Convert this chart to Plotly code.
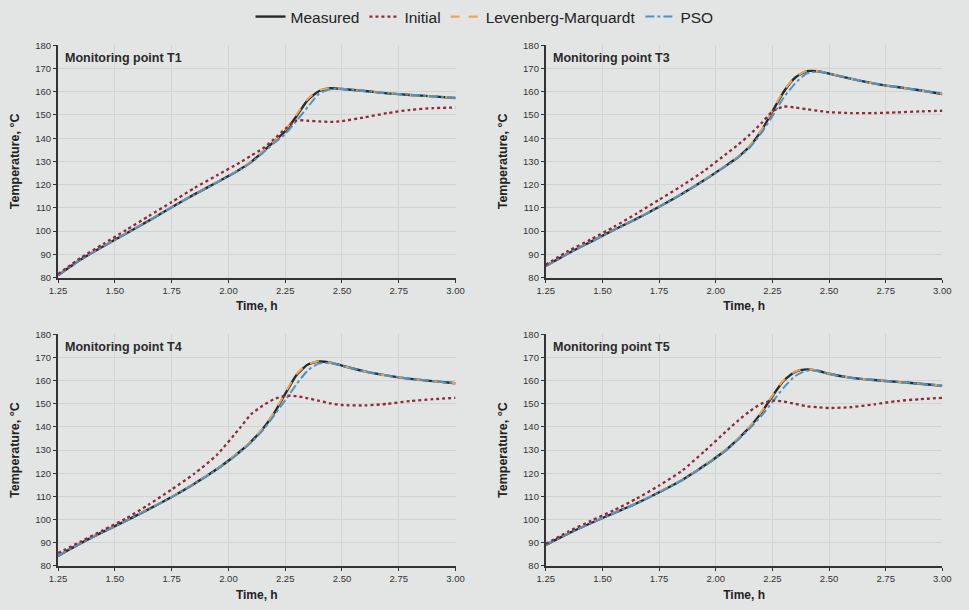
import plotly.graph_objects as go

time_h = [1.25, 1.35, 1.45, 1.55, 1.65, 1.75, 1.85, 1.95, 2.05, 2.10, 2.15, 2.20,
          2.25, 2.30, 2.35, 2.40, 2.45, 2.50, 2.60, 2.70, 2.80, 2.90, 3.00]

panel_titles = ["Monitoring point T1", "Monitoring point T3",
                "Monitoring point T4", "Monitoring point T5"]
series_names = ["Measured", "Initial", "Levenberg-Marquardt", "PSO"]

# T1
t1_measured = [81, 87.8, 93.5, 99, 104.5, 110.3, 115.8, 121, 126.5, 129.8, 134, 138.5,
               143, 149.5, 156.5, 160.3, 161.5, 161.2, 160.3, 159.3, 158.6, 158, 157.3]
t1_initial = [81.5, 88.5, 94.5, 100.5, 106.5, 112.5, 118.5, 124, 129.5, 132.5, 135.5, 139.5,
              144, 147.6, 147.5, 147.2, 147, 147.3, 149, 150.8, 152.2, 152.9, 153.2]
t1_lm = [81.2, 87.9, 93.6, 99.1, 104.6, 110.4, 115.9, 121.1, 126.6, 130, 134.2, 138.8,
         143.5, 150.2, 157, 160.6, 161.6, 161.2, 160.3, 159.4, 158.6, 158, 157.4]
t1_pso = [81, 87.7, 93.4, 98.9, 104.4, 110.2, 115.7, 120.9, 126.3, 129.5, 133.5, 137.8,
          141.8, 147.5, 153.5, 159.2, 161.1, 161.1, 160.3, 159.3, 158.6, 158, 157.3]

# T3
t3_measured = [85, 90.5, 95.5, 100.5, 105.3, 110.5, 116, 122, 128.5, 132, 136.5, 143,
               151.5, 160, 166, 168.8, 168.8, 167.8, 165.5, 163.5, 162, 160.6, 159]
t3_initial = [85.5, 91.5, 96.5, 101.8, 107.5, 113.5, 119.5, 126, 133.5, 137.3, 141.5, 146.3,
              151.5, 153.6, 153.2, 152.5, 151.8, 151.2, 150.8, 150.8, 151.1, 151.5, 151.8]
t3_lm = [85.1, 90.6, 95.6, 100.6, 105.4, 110.6, 116.1, 122.1, 128.6, 132.2, 136.8, 143.4,
         152, 160.4, 166.2, 168.9, 168.8, 167.8, 165.5, 163.5, 162, 160.6, 159.1]
t3_pso = [85, 90.4, 95.4, 100.4, 105.2, 110.4, 115.9, 121.9, 128.3, 131.7, 136, 142,
          149.5, 157.5, 163.5, 167.8, 168.6, 167.8, 165.5, 163.5, 162, 160.6, 159]

# T4
t4_measured = [84.3, 89.8, 94.8, 99.5, 104.5, 109.7, 115.5, 121.8, 129.3, 133.7, 139, 145.8,
               154.3, 162.5, 167, 168.3, 167.8, 166.5, 164, 162.2, 160.8, 159.8, 158.9]
t4_initial = [85.5, 90.5, 95.5, 100.5, 106.5, 113, 119.8, 128, 139.5, 145.5, 149.2, 152,
              153.5, 153.3, 152.4, 151.3, 150.2, 149.5, 149.3, 150, 151.2, 152, 152.6]
t4_lm = [84.4, 89.9, 94.9, 99.6, 104.6, 109.8, 115.6, 121.9, 129.5, 133.9, 139.3, 146.2,
         154.8, 162.9, 167.2, 168.4, 167.8, 166.5, 164, 162.2, 160.8, 159.8, 158.9]
t4_pso = [84.3, 89.7, 94.7, 99.4, 104.4, 109.6, 115.4, 121.6, 129, 133.3, 138.4, 144.8,
          151.5, 158.5, 164.5, 167.5, 167.6, 166.5, 164, 162.2, 160.8, 159.8, 158.9]

# T5
t5_measured = [89, 94, 98.5, 102.8, 107, 111.8, 117, 123.3, 130.5, 135, 140, 146,
               153.3, 160, 163.8, 164.9, 164.3, 163, 161.2, 160.3, 159.5, 158.7, 157.8]
t5_initial = [89.5, 94.8, 99.5, 104, 109, 114.7, 121, 129.5, 138.5, 142.9, 146.8, 150,
              151.4, 151, 150, 149, 148.5, 148.2, 148.6, 149.8, 151.2, 152, 152.6]
t5_lm = [89.1, 94.1, 98.6, 102.9, 107.1, 111.9, 117.1, 123.4, 130.7, 135.2, 140.3, 146.4,
         153.7, 160.3, 164, 165, 164.3, 163, 161.2, 160.3, 159.5, 158.7, 157.9]
t5_pso = [89, 93.9, 98.4, 102.7, 106.9, 111.7, 116.9, 123.1, 130.2, 134.6, 139.4, 144.6,
          150.8, 157, 162, 164.3, 164.2, 163, 161.2, 160.3, 159.5, 158.7, 157.8]

panels = [
    (t1_measured, t1_initial, t1_lm, t1_pso),
    (t3_measured, t3_initial, t3_lm, t3_pso),
    (t4_measured, t4_initial, t4_lm, t4_pso),
    (t5_measured, t5_initial, t5_lm, t5_pso),
]

colors = ["#2a2a2a", "#8e2a3a", "#eaa756", "#4c92c6"]
dashes = ["solid", "dot", "dash", "dashdot"]
widths = [2.4, 2.3, 2.1, 2.0]

x_domains = [[50 / 969, 455 / 969], [547 / 969, 951 / 969]]
y_domains = [[334 / 610, 571 / 610], [40 / 610, 276 / 610]]

BG = "#e3e5e5"
GRID = "#d2d4d4"
FONT = "Liberation Sans, Arial, sans-serif"

fig = go.Figure()
layout = {}
for i, vals in enumerate(panels):
    r, c = divmod(i, 2)
    n = "" if i == 0 else str(i + 1)
    xa, ya = "x" + n, "y" + n
    for k in [0, 2, 3, 1]:
        fig.add_trace(go.Scatter(
            x=time_h, y=vals[k], mode="lines", name=series_names[k],
            line=dict(color=colors[k], dash=dashes[k], width=widths[k], shape="spline", smoothing=0.6),
            xaxis=xa, yaxis=ya, showlegend=(i == 0), legendrank=k + 1,
        ))
    layout["xaxis" + n] = dict(
        domain=x_domains[c], anchor=ya, range=[1.25, 3.0], dtick=0.25, tick0=1.25,
        tickformat=".2f", showgrid=True, gridcolor=GRID, gridwidth=1, zeroline=False,
        showline=True, linecolor="#333333", linewidth=2, ticks="outside", ticklen=3,
        tickcolor="#333333", tickfont=dict(size=9.5, color="#333333", family=FONT),
        title=dict(text="<b>Time, h</b>", font=dict(size=12, color="#222222", family=FONT), standoff=7),
    )
    layout["yaxis" + n] = dict(
        domain=y_domains[r], anchor=xa, range=[80, 180], dtick=10,
        showgrid=True, gridcolor=GRID, gridwidth=1, zeroline=False,
        showline=True, linecolor="#333333", linewidth=2, ticks="outside", ticklen=3,
        tickcolor="#333333", tickfont=dict(size=9.5, color="#333333", family=FONT),
        title=dict(text="<b>Temperature, °C</b>", font=dict(size=12.5, color="#222222", family=FONT), standoff=13),
    )
    fig.add_annotation(
        text="<b>" + panel_titles[i] + "</b>", xref=xa + " domain", yref=ya + " domain",
        x=0.012, y=0.985, xanchor="left", yanchor="top", showarrow=False,
        font=dict(size=12.5, color="#2a2a2a", family=FONT),
    )

fig.update_layout(
    **layout,
    width=969, height=610,
    margin=dict(l=0, r=0, t=0, b=0),
    paper_bgcolor=BG, plot_bgcolor=BG,
    font=dict(family=FONT, color="#222222"),
    legend=dict(orientation="h", x=0.5, xanchor="center", y=1.012, yanchor="top",
                font=dict(size=15.5, color="#222222", family=FONT), bgcolor="rgba(0,0,0,0)",
                itemwidth=30, traceorder="normal"),
)

fig.write_html("out.html")
